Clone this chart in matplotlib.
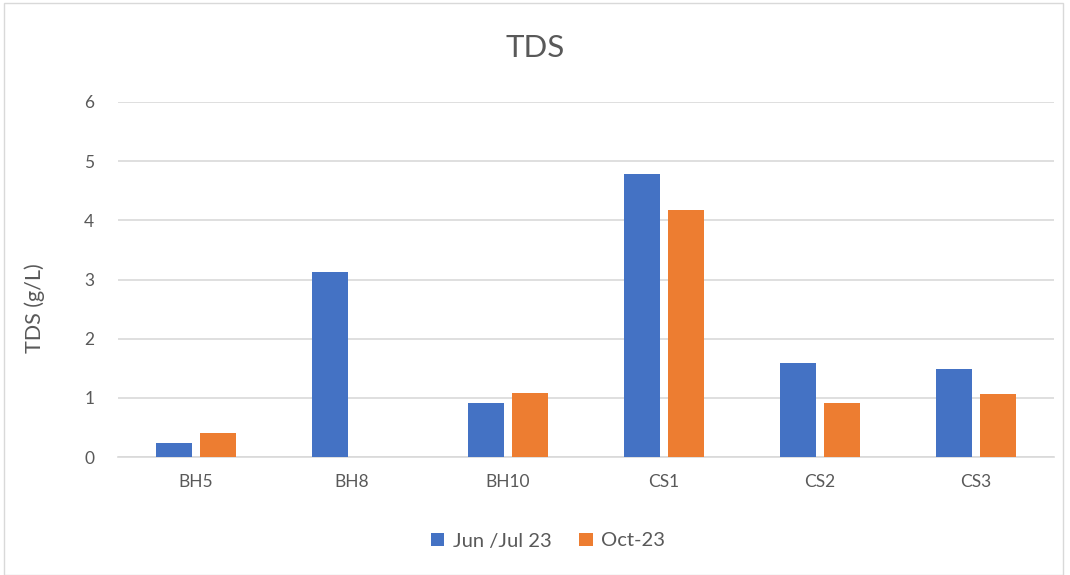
import matplotlib
matplotlib.use("Agg")
import matplotlib.pyplot as plt
import numpy as np
from matplotlib.patches import Rectangle

categories = ["BH5", "BH8", "BH10", "CS1", "CS2", "CS3"]
jun_jul_23 = [0.23, 3.13, 0.92, 4.79, 1.59, 1.48]
oct_23 = [0.40, 0.0, 1.08, 4.17, 0.92, 1.07]
series_labels = ["Jun /Jul 23", "Oct-23"]
y_ticks = [0, 1, 2, 3, 4, 5, 6]

BLUE = "#4472C4"
ORANGE = "#ED7D31"
TEXT = "#595959"
GRID = "#D9D9D9"

plt.rcParams["font.family"] = ["Lato", "DejaVu Sans"]

W, H = 1070, 575
fig = plt.figure(figsize=(W / 100, H / 100), dpi=100)

# chart frame
fig.patches.append(Rectangle((4 / W, 0), (1063 - 4) / W, (H - 3) / H,
                             transform=fig.transFigure, fill=False,
                             edgecolor=GRID, linewidth=1.0))

left, right, top, bottom = 118, 1054, 102, 457
ax = fig.add_axes([left / W, 1 - bottom / H, (right - left) / W, (bottom - top) / H])

x = np.arange(len(categories))
bw = 0.229
off = 0.143
ax.bar(x - off, jun_jul_23, width=bw, color=BLUE, label=series_labels[0], zorder=3)
ax.bar(x + off, oct_23, width=bw, color=ORANGE, label=series_labels[1], zorder=3)

ax.set_xlim(-0.5, len(categories) - 0.5)
ax.set_ylim(0, 6)
ax.set_yticks(y_ticks)
ax.set_xticks(x)
ax.set_xticklabels(categories)
ax.tick_params(axis="both", length=0, colors=TEXT, labelsize=12.5)
ax.tick_params(axis="x", pad=12)
ax.tick_params(axis="y", pad=17)
ax.yaxis.grid(True, color=GRID, linewidth=1.2, zorder=0)
ax.set_axisbelow(True)
for s in ["top", "right", "left"]:
    ax.spines[s].set_visible(False)
ax.spines["bottom"].set_color(GRID)
ax.spines["bottom"].set_linewidth(1.2)

ax.set_ylabel("TDS (g/L)", fontsize=15.5, color=TEXT)
ax.yaxis.set_label_coords(-0.078, 0.42)

fig.text(0.5, 1 - 48 / H, "TDS", ha="center", va="center", fontsize=22.5, color=TEXT)

leg = fig.legend(loc="center", bbox_to_anchor=(548 / W, 1 - 541 / H), ncol=2,
                 frameon=False, fontsize=14.5, handlelength=0.65, handleheight=0.65,
                 handletextpad=0.4, columnspacing=1.4)
for t in leg.get_texts():
    t.set_color(TEXT)

fig.savefig("out.png", dpi=100)
